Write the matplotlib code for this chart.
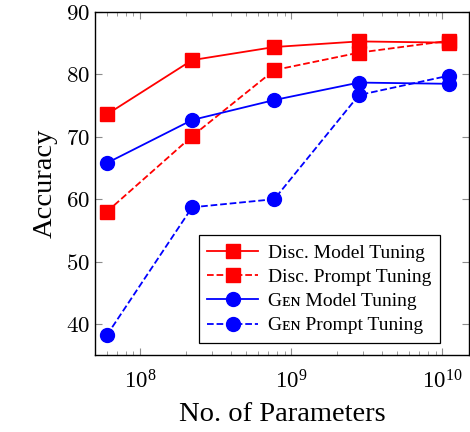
import matplotlib
matplotlib.use("Agg")
import matplotlib.pyplot as plt
from matplotlib.ticker import LogLocator, NullFormatter, FuncFormatter

plt.rcParams['font.family'] = ['Liberation Serif', 'DejaVu Serif']
plt.rcParams['mathtext.fontset'] = 'cm'

# model sizes (T5 small .. XXL)
params = [6e7, 2.2e8, 7.7e8, 2.8e9, 1.1e10]

disc_model = [73.6, 82.3, 84.4, 85.3, 85.1]
disc_prompt = [58.0, 70.1, 80.7, 83.5, 85.4]
gen_model = [65.8, 72.7, 75.9, 78.7, 78.5]
gen_prompt = [38.2, 58.7, 60.0, 76.7, 79.8]

labels = ["Disc. Model Tuning", "Disc. Prompt Tuning",
          "G\u1d07\u0274 Model Tuning", "G\u1d07\u0274 Prompt Tuning"]

fig, ax = plt.subplots(figsize=(4.7, 4.32), dpi=100)
fig.subplots_adjust(left=0.202, right=0.998, top=0.972, bottom=0.178)

ax.plot(params, disc_model, '-', color='red', marker='s', ms=10.5, lw=1.3, label=labels[0])
ax.plot(params, disc_prompt, '--', color='red', marker='s', ms=10.5, lw=1.3, label=labels[1])
ax.plot(params, gen_model, '-', color='blue', marker='o', ms=10, lw=1.3, label=labels[2])
ax.plot(params, gen_prompt, '--', color='blue', marker='o', ms=10, lw=1.3, label=labels[3])

ax.set_xscale('log')
ax.set_xlim(5e7, 1.5e10)
ax.set_ylim(35, 90)
ax.set_yticks([40, 50, 60, 70, 80, 90])
ax.yaxis.set_major_formatter(FuncFormatter(lambda v, p: r'$%d$' % v))
ax.xaxis.set_minor_locator(LogLocator(base=10, subs=range(2, 10)))
ax.xaxis.set_minor_formatter(NullFormatter())
ax.tick_params(which='both', direction='in', top=True, right=True, color='0.55')
ax.tick_params(which='major', length=5, labelsize=16.5)
ax.tick_params(which='minor', length=3)
ax.tick_params(axis='x', pad=11)
for s in ax.spines.values():
    s.set_linewidth(1.0)

ax.set_xlabel("No. of Parameters", fontsize=20.5, labelpad=6)
ax.set_ylabel("Accuracy", fontsize=20.5, labelpad=6)

leg = ax.legend(loc='lower right', fontsize=14, fancybox=False, framealpha=1,
                edgecolor='black', handlelength=2.6, borderpad=0.45,
                labelspacing=0.34, handletextpad=0.5, borderaxespad=0,
                bbox_to_anchor=(0.922, 0.035))
leg.get_frame().set_linewidth(0.9)

fig.savefig("out.png", dpi=100)
